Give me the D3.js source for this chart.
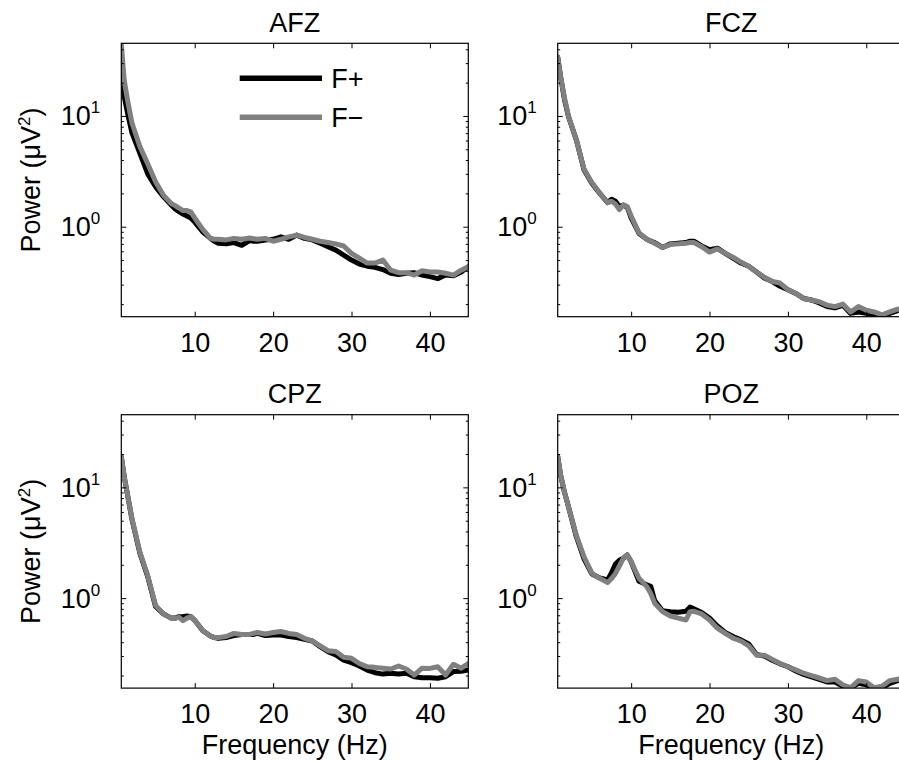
<!DOCTYPE html>
<html>
<head>
<meta charset="utf-8">
<script src="https://cdn.jsdelivr.net/npm/d3@7"></script>
<style>
  body { margin: 0; background: #fff; }
  svg { display: block; }
  text { font-family: "Liberation Sans", Arial, Helvetica, sans-serif; fill: #000; }
</style>
</head>
<body>
<svg id="chart" width="899" height="761"></svg>
<script>
// ---------------- DATA ----------------
const channels = ["AFZ", "FCZ", "CPZ", "POZ"];
const seriesNames = ["F+", "F\u2212"];
const xTicks = [10, 20, 30, 40];
const yMajorTicks = [1, 10];
const xDomain = [0.63, 44.9];
const yDomain = [0.154, 45.3];

const freqs = [0.63, 1, 1.5, 2, 3, 4, 5, 6, 7, 7.5, 8, 8.5, 9, 9.5, 10, 11, 12, 12.5, 13, 14, 15, 16, 17, 17.5,
  18, 19, 20, 21, 22, 23, 24, 25, 26, 27, 28, 29, 30, 31, 32, 33, 34, 35, 36, 37, 38, 39, 40, 41, 42, 43, 44, 44.9];

const afzPlus = [30, 15, 10, 7.0, 4.6, 3.0, 2.3, 1.87, 1.57, 1.45, 1.37, 1.3, 1.25, 1.2, 1.1, 0.9, 0.785, 0.74,
  0.71, 0.70, 0.72, 0.68, 0.75, 0.74, 0.74, 0.76, 0.77, 0.81, 0.77, 0.84, 0.785, 0.76, 0.71, 0.66, 0.615, 0.555,
  0.50, 0.46, 0.44, 0.43, 0.41, 0.38, 0.37, 0.38, 0.385, 0.366, 0.354, 0.34, 0.366, 0.36, 0.39, 0.435];
const afzMinus = [45, 21, 13, 8.6, 5.3, 3.7, 2.55, 1.93, 1.62, 1.55, 1.47, 1.40, 1.40, 1.36, 1.2, 0.95, 0.785, 0.77,
  0.77, 0.76, 0.785, 0.77, 0.79, 0.78, 0.77, 0.785, 0.74, 0.77, 0.81, 0.84, 0.80, 0.77, 0.74, 0.72, 0.70, 0.67,
  0.575, 0.52, 0.47, 0.47, 0.50, 0.405, 0.385, 0.385, 0.366, 0.40, 0.39, 0.39, 0.38, 0.366, 0.405, 0.435];

const fczPlus = [34, 22.6, 14, 9.9, 6.1, 3.25, 2.46, 2.0, 1.65, 1.77, 1.70, 1.52, 1.57, 1.50, 1.20, 0.87, 0.77, 0.74,
  0.72, 0.65, 0.70, 0.71, 0.72, 0.74, 0.74, 0.67, 0.62, 0.64, 0.575, 0.52, 0.47, 0.44, 0.39, 0.345, 0.32, 0.29,
  0.27, 0.25, 0.225, 0.218, 0.205, 0.19, 0.185, 0.195, 0.165, 0.17, 0.165, 0.16, 0.155, 0.165, 0.175, 0.18];
const fczMinus = [34, 22.6, 14.5, 10, 6.1, 3.3, 2.5, 2.0, 1.65, 1.70, 1.60, 1.43, 1.57, 1.52, 1.25, 0.88, 0.77, 0.74,
  0.71, 0.65, 0.69, 0.70, 0.71, 0.72, 0.72, 0.66, 0.59, 0.63, 0.575, 0.53, 0.48, 0.44, 0.39, 0.35, 0.32, 0.31,
  0.27, 0.25, 0.225, 0.218, 0.21, 0.196, 0.19, 0.20, 0.17, 0.19, 0.176, 0.17, 0.16, 0.17, 0.18, 0.185];

const cpzPlus = [19, 12.5, 8, 5.1, 2.54, 1.56, 0.84, 0.72, 0.66, 0.66, 0.68, 0.68, 0.69, 0.68, 0.63, 0.51, 0.455, 0.44,
  0.433, 0.44, 0.46, 0.47, 0.47, 0.47, 0.48, 0.46, 0.465, 0.465, 0.45, 0.44, 0.425, 0.41, 0.364, 0.329, 0.307, 0.276,
  0.261, 0.244, 0.224, 0.212, 0.206, 0.21, 0.206, 0.21, 0.195, 0.191, 0.191, 0.189, 0.195, 0.217, 0.219, 0.224];
const cpzMinus = [19, 12.5, 8, 5.2, 2.6, 1.6, 0.86, 0.72, 0.66, 0.66, 0.67, 0.625, 0.66, 0.68, 0.63, 0.51, 0.455, 0.44,
  0.44, 0.45, 0.48, 0.47, 0.47, 0.48, 0.49, 0.475, 0.49, 0.50, 0.48, 0.47, 0.434, 0.41, 0.37, 0.335, 0.329, 0.292,
  0.286, 0.257, 0.24, 0.237, 0.233, 0.229, 0.244, 0.229, 0.202, 0.233, 0.232, 0.24, 0.202, 0.253, 0.233, 0.257];

const pozPlus = [19, 12.9, 9, 6.7, 3.6, 2.25, 1.65, 1.52, 1.46, 1.7, 2.03, 2.2, 2.29, 2.45, 2.13, 1.42, 1.32, 1.28,
  0.95, 0.77, 0.755, 0.745, 0.76, 0.83, 0.80, 0.74, 0.66, 0.56, 0.49, 0.45, 0.42, 0.385, 0.31, 0.30, 0.275, 0.255,
  0.24, 0.22, 0.205, 0.195, 0.185, 0.175, 0.175, 0.16, 0.155, 0.17, 0.165, 0.15, 0.155, 0.17, 0.18, 0.185];
const pozMinus = [19, 12.9, 9, 6.7, 3.7, 2.35, 1.67, 1.51, 1.38, 1.5, 1.67, 1.95, 2.29, 2.45, 2.13, 1.51, 1.27, 1.10,
  0.90, 0.755, 0.69, 0.66, 0.635, 0.755, 0.76, 0.72, 0.635, 0.535, 0.48, 0.435, 0.41, 0.37, 0.305, 0.305, 0.28, 0.257,
  0.24, 0.225, 0.21, 0.20, 0.19, 0.18, 0.185, 0.165, 0.155, 0.18, 0.175, 0.155, 0.16, 0.18, 0.185, 0.19];

const panelData = [
  [afzPlus, afzMinus],
  [fczPlus, fczMinus],
  [cpzPlus, cpzMinus],
  [pozPlus, pozMinus]
];

// ---------------- LAYOUT ----------------
const PW = 347, PH = 273.4;
const X0 = 121.3, DX = 436.4, Y0 = 43.3, DY = 371.4;
const FS = 27;
const colors = ["#000000", "#808080"];
const LW = 5;

const svg = d3.select("#chart");
const x = d3.scaleLinear().domain(xDomain).range([0, PW]);
const y = d3.scaleLog().domain(yDomain).range([PH, 0]);
const minorTicks = y.ticks().filter(v => !yMajorTicks.includes(v));

const line = d3.line().x((d, i) => x(freqs[i])).y(d => y(d));

function styleAxis(g) {
  g.select(".domain").remove();
  g.selectAll(".tick line").attr("stroke", "#000").attr("stroke-width", 1);
  g.attr("font-family", null).attr("font-size", FS);
}

channels.forEach((name, p) => {
  const col = p % 2, row = Math.floor(p / 2);
  const g = svg.append("g").attr("transform", `translate(${X0 + col * DX},${Y0 + row * DY})`);

  // title
  g.append("text").attr("x", PW / 2).attr("y", -11.6).attr("text-anchor", "middle")
    .attr("font-size", FS).text(name);

  // clip
  const cid = "clip" + p;
  g.append("clipPath").attr("id", cid).append("rect").attr("width", PW).attr("height", PH);

  // lines: F+ (black) then F- (gray) on top
  const lg = g.append("g").attr("clip-path", `url(#${cid})`);
  panelData[p].forEach((vals, s) => {
    lg.append("path").datum(vals)
      .attr("d", line)
      .attr("fill", "none")
      .attr("stroke", colors[s])
      .attr("stroke-width", LW)
      .attr("stroke-linejoin", "round")
      .attr("stroke-linecap", "round");
  });

  // axes
  g.append("g").attr("transform", `translate(0,${PH})`)
    .call(d3.axisBottom(x).tickValues(xTicks).tickSizeInner(-5).tickSizeOuter(0).tickPadding(16).tickFormat(d3.format("d")))
    .call(styleAxis);
  g.append("g")
    .call(d3.axisTop(x).tickValues(xTicks).tickSizeInner(-5).tickSizeOuter(0).tickFormat(""))
    .call(styleAxis);
  const yl = g.append("g")
    .call(d3.axisLeft(y).tickValues(yMajorTicks).tickSizeInner(-5).tickSizeOuter(0).tickPadding(21).tickFormat(""))
    .call(styleAxis);
  yl.selectAll(".tick text").each(function (d) {
    const t = d3.select(this).attr("dy", null).attr("y", 9).attr("text-anchor", "end");
    t.append("tspan").text("10");
    t.append("tspan").attr("font-size", 17).attr("dy", -12).text(Math.round(Math.log10(d)));
  });
  g.append("g")
    .call(d3.axisLeft(y).tickValues(minorTicks).tickSizeInner(-2.5).tickSizeOuter(0).tickFormat(""))
    .call(styleAxis);
  g.append("g").attr("transform", `translate(${PW},0)`)
    .call(d3.axisRight(y).tickValues(yMajorTicks).tickSizeInner(-5).tickSizeOuter(0).tickFormat(""))
    .call(styleAxis);
  g.append("g").attr("transform", `translate(${PW},0)`)
    .call(d3.axisRight(y).tickValues(minorTicks).tickSizeInner(-2.5).tickSizeOuter(0).tickFormat(""))
    .call(styleAxis);

  // frame
  g.append("rect").attr("width", PW).attr("height", PH)
    .attr("fill", "none").attr("stroke", "#000").attr("stroke-width", 1.2);

  // y label on left column
  if (col === 0) {
    const t = g.append("text").attr("transform", `translate(${40 - X0},${PH / 2}) rotate(-90)`)
      .attr("text-anchor", "middle").attr("font-size", FS);
    t.append("tspan").text("Power (\u03BCV");
    t.append("tspan").attr("font-size", 17).attr("dy", -10).text("2");
    t.append("tspan").attr("dy", 10).text(")");
  }
  // x label on bottom row
  if (row === 1) {
    g.append("text").attr("x", PW / 2).attr("y", PH + 66).attr("text-anchor", "middle")
      .attr("font-size", FS).text("Frequency (Hz)");
  }

  // legend in first panel
  if (p === 0) {
    const lx0 = 118.4, lx1 = 200.7, ly = [35, 74];
    seriesNames.forEach((s, i) => {
      g.append("line").attr("x1", lx0).attr("x2", lx1).attr("y1", ly[i]).attr("y2", ly[i])
        .attr("stroke", colors[i]).attr("stroke-width", 5.5);
      g.append("text").attr("x", 210).attr("y", ly[i] + 9.5).attr("font-size", FS).text(s);
    });
  }
});
</script>
</body>
</html>
